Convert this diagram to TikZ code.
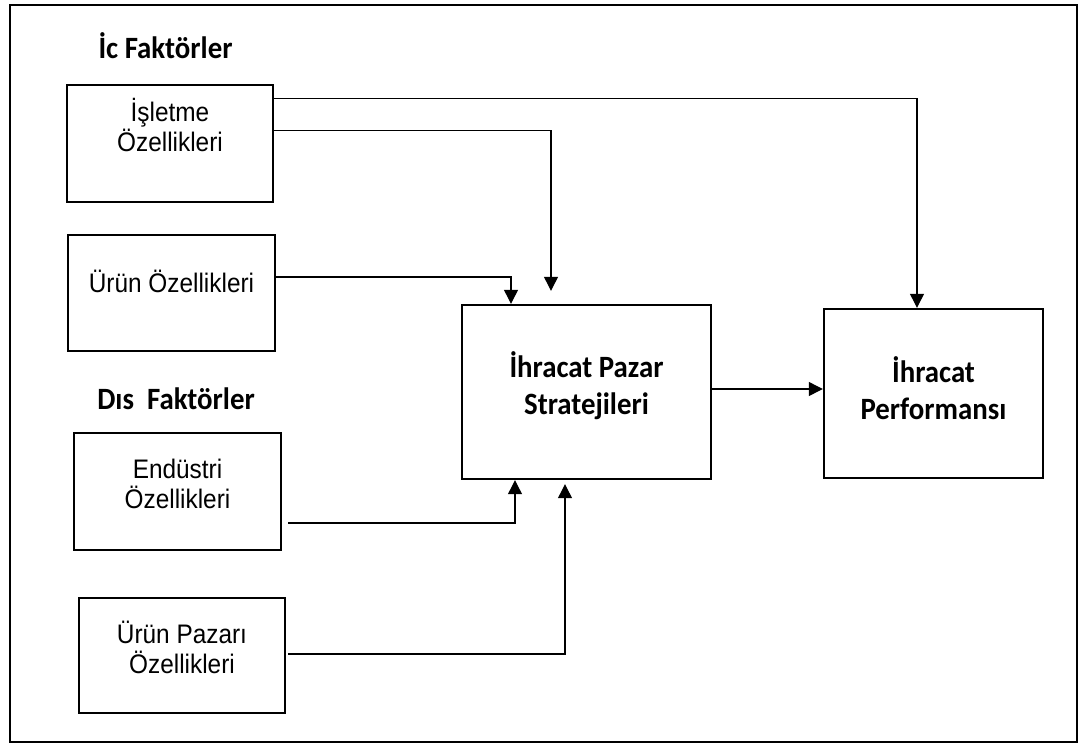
\documentclass[tikz,border=0pt]{standalone}
\usepackage{fontspec}
\usepackage{tikz}
\usetikzlibrary{arrows.meta,positioning}
\setmainfont{Liberation Sans}
\newfontfamily\kutufont[FakeStretch=0.91]{Liberation Sans}
\newfontfamily\carlito[FakeStretch=0.93]{Carlito}

\begin{document}
\begin{tikzpicture}[x=1pt,y=-1pt,
	kutu/.style={draw,line width=2.4pt,inner sep=0pt},
	yazi/.style={font=\kutufont\fontsize{26.8}{30.5}\selectfont,align=center,inner sep=0pt},
	baslik/.style={font=\carlito\bfseries\fontsize{31}{37.5}\selectfont,align=center,inner sep=0pt},
	ok/.style={line width=1.2pt,-{Triangle[length=14pt,width=14pt]}}]
			\useasboundingbox (0,0) rectangle (1080,745);
			\draw[line width=2pt] (10,5) rectangle (1077,742);
			
			\node[baslik,anchor=base] (ic) at (165.5,58.5) {İc Faktörler};
			\node[baslik,anchor=base] (dis) at (176,409.5) {Dıs\ \ Faktörler};
			
			\node[kutu,minimum width=206,minimum height=117] (isl) at (170,143.5) {};
			\node[kutu,minimum width=207,minimum height=116] (urun) at (171.5,293) {};
			\node[kutu,minimum width=207,minimum height=117] (endu) at (177.5,491.5) {};
			\node[kutu,minimum width=206,minimum height=115] (upaz) at (182,655.5) {};
			\node[kutu,minimum width=249,minimum height=174] (strat) at (586.5,392) {};
			\node[kutu,minimum width=219,minimum height=169] (perf) at (933.5,393.5) {};
			
			\node[yazi] (isl-t) at ([yshift=18.5]isl.center) {İşletme\\Özellikleri};
			\node[yazi,anchor=base] (urun-t) at (171.5,292) {Ürün Özellikleri};
			\node[yazi] (endu-t) at ([yshift=7.5]endu.center) {Endüstri\\Özellikleri};
			\node[yazi] (upaz-t) at ([yshift=8]upaz.center) {Ürün Pazarı\\Özellikleri};
			\node[baslik] (strat-t) at ([yshift=6.5]strat.center) {İhracat Pazar\\Stratejileri};
			\node[baslik] (perf-t) at ([yshift=5.5]perf.center) {İhracat\\Performansı};
			
			\draw[ok] ([yshift=-15]isl.north east) -| ([xshift=-16.5]perf.north);
			\draw[ok] ([yshift=-47]isl.north east) -| ([xshift=-35.5,yshift=13]strat.north);
			\draw[ok] ([yshift=16]urun.east) -| ([xshift=-75.5]strat.north);
			
			\coordinate (s-out) at ([yshift=3]strat.east);
			\draw[ok] (s-out) -- (s-out -| perf.west);
			
			\draw[ok] ([xshift=6,yshift=-31.5]endu.east) -| ([xshift=-71.5]strat.south);
			\draw[ok] ([xshift=2,yshift=1.5]upaz.east) -| ([xshift=-21.5,yshift=-4]strat.south);
		\end{tikzpicture}
\end{document}
